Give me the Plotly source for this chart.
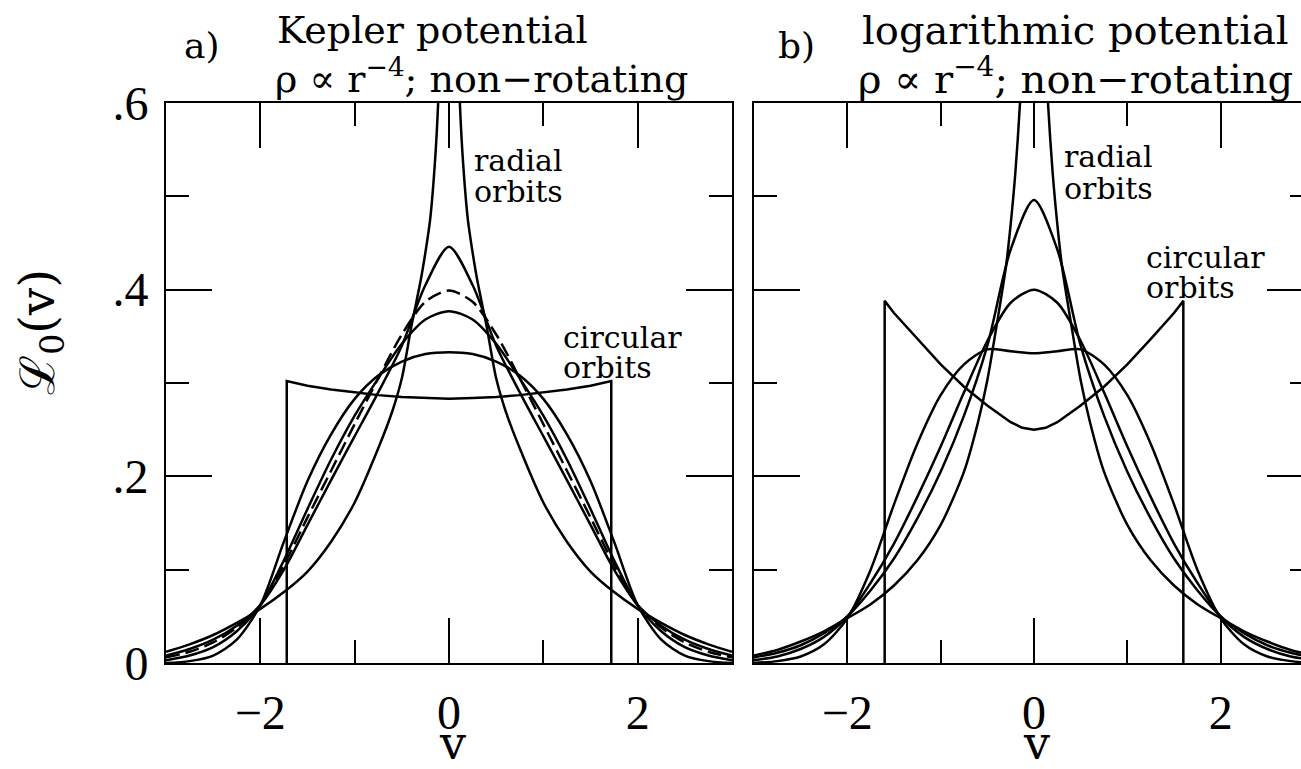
import plotly.graph_objects as go

W, H = 1301, 769

# ---------------- data ----------------
v_grid = [0, 0.25, 0.5, 0.75, 1.0, 1.25, 1.5, 1.75, 2.0, 2.25, 2.5, 2.75, 3.0]

# a) Kepler potential
kep_rad_v = [0.10, 0.115, 0.15, 0.2, 0.25, 0.3, 0.4, 0.5, 0.6, 0.75, 1.0, 1.25, 1.5, 1.75, 2.0, 2.25, 2.5, 2.75, 3.0]
kep_rad = [0.65, 0.60, 0.535, 0.475, 0.44, 0.41, 0.36, 0.305, 0.27, 0.23, 0.172, 0.13, 0.098, 0.076, 0.058, 0.043, 0.030, 0.020, 0.012]
kep_1 = [0.446, 0.405, 0.340, 0.290, 0.243, 0.196, 0.148, 0.100, 0.062, 0.040, 0.025, 0.015, 0.008]
kep_iso = [0.399, 0.387, 0.352, 0.305, 0.256, 0.206, 0.156, 0.105, 0.062, 0.038, 0.022, 0.012, 0.006]
kep_3 = [0.377, 0.368, 0.342, 0.305, 0.265, 0.218, 0.165, 0.110, 0.062, 0.034, 0.017, 0.008, 0.003]
kep_4 = [0.333, 0.331, 0.323, 0.308, 0.283, 0.245, 0.195, 0.130, 0.062, 0.025, 0.008, 0.002, 0.0]
kep_circ_v = [0, 0.25, 0.5, 0.75, 1.0, 1.25, 1.5, 1.72]
kep_circ = [0.283, 0.284, 0.285, 0.287, 0.290, 0.293, 0.297, 0.302]

# b) logarithmic potential
log_rad_v = [0.13, 0.15, 0.2, 0.25, 0.3, 0.4, 0.5, 0.6, 0.75, 1.0, 1.25, 1.5, 1.75, 2.0, 2.25, 2.5, 2.75, 3.0]
log_rad = [0.65, 0.60, 0.525, 0.47, 0.425, 0.362, 0.303, 0.258, 0.205, 0.148, 0.110, 0.083, 0.063, 0.048, 0.034, 0.023, 0.014, 0.008]
log_1 = [0.496, 0.443, 0.340, 0.265, 0.205, 0.155, 0.112, 0.078, 0.050, 0.032, 0.019, 0.011, 0.006]
log_2 = [0.400, 0.386, 0.345, 0.290, 0.232, 0.178, 0.128, 0.086, 0.050, 0.028, 0.015, 0.007, 0.003]
log_3 = [0.332, 0.334, 0.336, 0.320, 0.287, 0.235, 0.170, 0.100, 0.048, 0.020, 0.007, 0.002, 0.0]
log_circ_v = [0, 0.125, 0.25, 0.5, 0.75, 1.0, 1.25, 1.5, 1.6]
log_circ = [0.250, 0.252, 0.258, 0.276, 0.296, 0.320, 0.347, 0.375, 0.388]

x_tickvals = [-2, 0, 2]
x_ticktext = ["\u22122", "0", "2"]
y_tickvals = [0, 0.2, 0.4, 0.6]
y_ticktext = ["0", ".2", ".4", ".6"]


def mirror_sym(vs, ys):
    xs = [-v for v in reversed(vs[1:])] + list(vs)
    yy = list(reversed(ys[1:])) + list(ys)
    return xs, yy


def radial_branches(vs, ys):
    xs = [-v for v in reversed(vs)] + [None] + list(vs)
    yy = list(reversed(ys)) + [None] + list(ys)
    return xs, yy


def circ_box(vs, ys):
    xs = [-vs[-1]] + [-v for v in reversed(vs[1:])] + list(vs) + [vs[-1]]
    yy = [0] + list(reversed(ys[1:])) + list(ys) + [0]
    return xs, yy


fig = go.Figure()
LW = 2.5


def add(xs, ys, xa, ya, shape="spline", dash=None):
    ln = dict(color="black", width=LW, shape=shape)
    if shape == "spline":
        ln["smoothing"] = 0.8
    if dash:
        ln["dash"] = dash
    fig.add_trace(go.Scatter(x=xs, y=ys, mode="lines", line=ln, xaxis=xa, yaxis=ya,
                             showlegend=False, hoverinfo="skip", connectgaps=False))


# panel a
add(*radial_branches(kep_rad_v, kep_rad), "x", "y")
add(*mirror_sym(v_grid, kep_1), "x", "y")
add(*mirror_sym(v_grid, kep_iso), "x", "y", dash="14px,6px")
add(*mirror_sym(v_grid, kep_3), "x", "y")
add(*mirror_sym(v_grid, kep_4), "x", "y")
add(*circ_box(kep_circ_v, kep_circ), "x", "y", shape="linear")

# panel b
add(*radial_branches(log_rad_v, log_rad), "x2", "y2")
add(*mirror_sym(v_grid, log_1), "x2", "y2")
add(*mirror_sym(v_grid, log_2), "x2", "y2")
add(*mirror_sym(v_grid, log_3), "x2", "y2")
add(*circ_box(log_circ_v, log_circ), "x2", "y3", shape="linear")

tickfont = dict(family="Liberation Serif", size=48, color="black")
ydom = [(H - 663) / H, (H - 103) / H]

common_x = dict(range=[-3, 3], showgrid=False, zeroline=False, showline=True, linecolor="black",
                linewidth=2, ticks="inside", tickwidth=2, ticklen=45, tickcolor="black",
                tickmode="array", tickvals=x_tickvals, ticktext=x_ticktext, tickfont=tickfont,
                mirror="ticks", ticklabelstandoff=6, automargin=False,
                minor=dict(tickmode="array", tickvals=[-1, 1], ticklen=23, tickwidth=2,
                           ticks="inside", tickcolor="black", showgrid=False))
common_y = dict(range=[0, 0.6], domain=ydom, showgrid=False, zeroline=False, showline=True,
                linecolor="black", linewidth=2, ticks="inside", tickwidth=2, ticklen=46,
                tickcolor="black", tickmode="array", tickvals=y_tickvals, ticktext=y_ticktext,
                tickfont=tickfont, automargin=False,
                minor=dict(tickmode="array", tickvals=[0.1, 0.3, 0.5], ticklen=23, tickwidth=2,
                           ticks="inside", tickcolor="black", showgrid=False))

x2_end = 3 * (W - 1034) / (1034 - 754)

fig.update_layout(
    width=W, height=H, margin=dict(l=0, r=0, t=0, b=0, autoexpand=False),
    paper_bgcolor="white", plot_bgcolor="white",
    xaxis=dict(common_x, domain=[166 / W, 732 / W], anchor="y"),
    yaxis=dict(common_y, anchor="x", mirror="ticks", ticklabelstandoff=6),
    xaxis2=dict(common_x, domain=[754 / W, 1.0], anchor="y2", range=[-3, x2_end]),
    yaxis2=dict(common_y, anchor="x2", mirror=False, showticklabels=False),
    yaxis3=dict(range=[0, 0.6], overlaying="y2", anchor="x2", side="right", showgrid=False,
                zeroline=False, showline=False, ticks="inside", tickwidth=2, ticklen=34,
                tickcolor="black", tickmode="array", tickvals=y_tickvals, showticklabels=False,
                automargin=False,
                minor=dict(tickmode="array", tickvals=[0.1, 0.3, 0.5], ticklen=11, tickwidth=2,
                           ticks="inside", tickcolor="black", showgrid=False)),
)

TF = "DejaVu Serif"


def ann(text, x, y, size, xanchor="left", angle=0):
    fig.add_annotation(text=text, x=x / W, y=1 - y / H, xref="paper", yref="paper",
                       xanchor=xanchor, yanchor="middle", showarrow=False, textangle=angle,
                       font=dict(family=TF, size=size, color="black"))


ann("a)", 182, 45, 36)
ann("Kepler potential", 275, 30, 38)
ann("\u03c1 \u221d r<sup>\u22124</sup>; non\u2212rotating", 273, 76, 38)
ann("b)", 776, 45, 36)
ann("logarithmic potential", 860, 30, 40)
ann("\u03c1 \u221d r<sup>\u22124</sup>; non\u2212rotating", 856, 76, 40)

ann("radial", 472, 160, 30)
ann("orbits", 472, 191, 30)
ann("circular", 561, 337, 30)
ann("orbits", 561, 367, 30)
ann("radial", 1062, 157, 30)
ann("orbits", 1062, 188, 30)
ann("circular", 1144, 257, 30)
ann("orbits", 1144, 287, 30)

ann("v", 452, 743, 46, xanchor="center")
ann("v", 1036, 743, 46, xanchor="center")
ann("\u2112<sub>0</sub>(v)", 40, 332, 48, xanchor="center", angle=-90)

fig.write_html(
    "out.html",
    config={"displayModeBar": False},
    post_script="document.body.style.margin='0px';"
                "document.documentElement.style.overflow='hidden';"
                "document.body.style.overflow='hidden';",
)
